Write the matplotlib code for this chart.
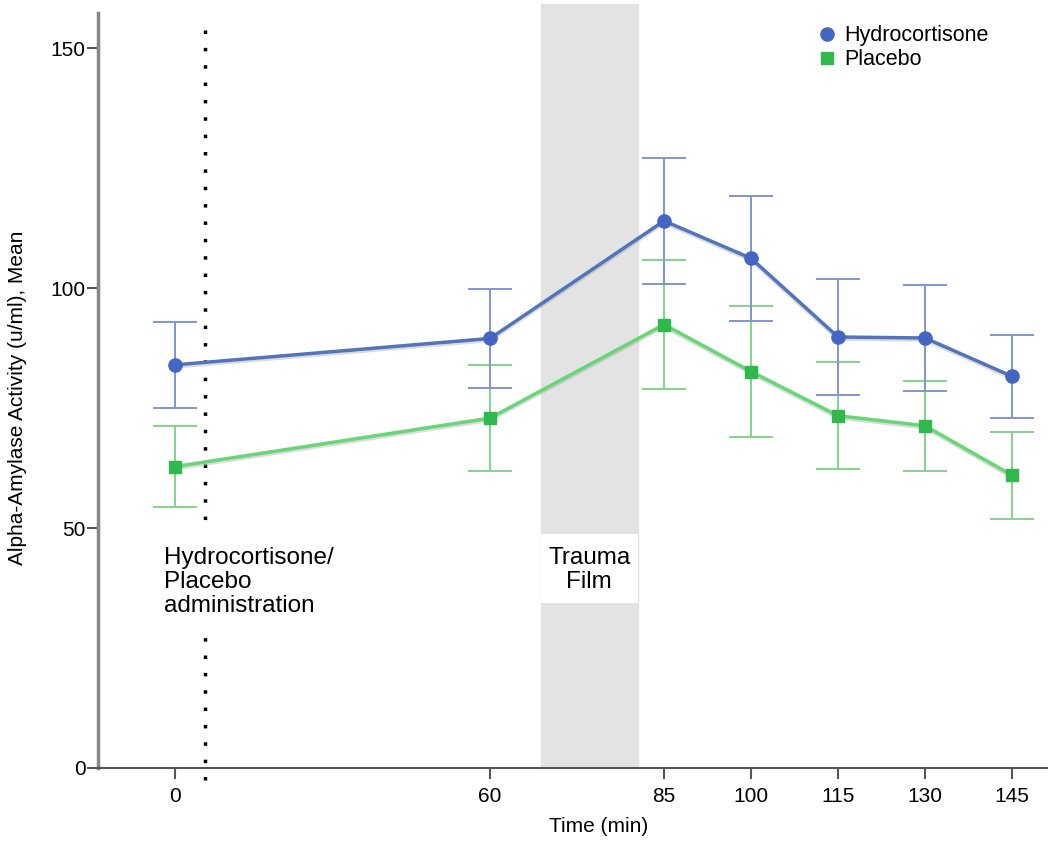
import numpy as np
import matplotlib.pyplot as plt
import matplotlib.patheffects as pe
from matplotlib.patches import Rectangle

plt.rcParams['font.family'] = ['Liberation Sans', 'DejaVu Sans']

# sampling times (min) and group means / error half-widths
times = [0, 60, 85, 100, 115, 130, 145]
hydro_mean = [84.0, 89.5, 114.0, 106.2, 89.8, 89.6, 81.6]
hydro_err = [8.9, 10.4, 13.2, 13.0, 12.0, 11.0, 8.6]
placebo_mean = [62.8, 72.9, 92.4, 82.6, 73.4, 71.3, 61.0]
placebo_err = [8.4, 11.0, 13.4, 13.7, 11.2, 9.4, 9.1]

film_start, film_end = 67.3, 81.2
admin_time = 5.7

# the time axis is stretched unevenly: 0->60 gets less room per minute
slots = np.array([0, 3.62, 5.62, 6.62, 7.62, 8.62, 9.62])
t_arr = np.array(times, dtype=float)


def t2s(t):
    t = np.asarray(t, dtype=float)
    s = np.interp(t, t_arr, slots)
    lo = t < t_arr[0]
    hi = t > t_arr[-1]
    s = np.where(lo, slots[0] + (t - t_arr[0]) * (slots[1] - slots[0]) / (t_arr[1] - t_arr[0]), s)
    s = np.where(hi, slots[-1] + (t - t_arr[-1]) * (slots[-1] - slots[-2]) / (t_arr[-1] - t_arr[-2]), s)
    return s


def s2t(s):
    s = np.asarray(s, dtype=float)
    t = np.interp(s, slots, t_arr)
    lo = s < slots[0]
    hi = s > slots[-1]
    t = np.where(lo, t_arr[0] + (s - slots[0]) * (t_arr[1] - t_arr[0]) / (slots[1] - slots[0]), t)
    t = np.where(hi, t_arr[-1] + (s - slots[-1]) * (t_arr[-1] - t_arr[-2]) / (slots[-1] - slots[-2]), t)
    return t


fig = plt.figure(figsize=(10.48, 8.43), dpi=100)
ax = fig.add_axes([0.0935, 0.089, 0.9065, 0.8955])
ax.set_xscale('function', functions=(t2s, s2t))
ax.set_xlim(-14.7, 151.2)
ax.set_ylim(0, 157.3)

blue = '#5274bb'
blue_mk = '#4565c4'
blue_err = '#8294d4'
green = '#66d676'
green_mk = '#2fb84c'
green_err = '#7fd68a'

# trauma film window and drug administration marker
ax.axvspan(film_start, film_end, ymin=0, ymax=1.012, color='#e3e3e3', zorder=0, clip_on=False)
ax.vlines(admin_time, -2.5, 156.5, color='black', linestyle=(0, (1, 4)), lw=2.5,
          zorder=1, clip_on=False)

# white gaps behind the annotation text
ax.add_patch(Rectangle((film_start, 34.4), film_end - film_start, 14.4,
                       facecolor='white', edgecolor='none', zorder=1.5))
ax.add_patch(Rectangle((admin_time - 2, 28.7), 4, 21.0,
                       facecolor='white', edgecolor='none', zorder=1.5))

shadow = [pe.SimpleLineShadow(offset=(0, -1.5), shadow_color='#999999', alpha=0.35), pe.Normal()]

ax.errorbar(times, placebo_mean, yerr=placebo_err, fmt='none', ecolor=green_err,
            elinewidth=1.4, capsize=16, capthick=1.4, zorder=2)
ax.errorbar(times, hydro_mean, yerr=hydro_err, fmt='none', ecolor=blue_err,
            elinewidth=1.4, capsize=16, capthick=1.4, zorder=2)
ax.plot(times, placebo_mean, color=green, lw=2.5, zorder=3, path_effects=shadow)
ax.plot(times, hydro_mean, color=blue, lw=2.5, zorder=3, path_effects=shadow)
ax.plot(times, placebo_mean, 's', color=green_mk, ms=9, zorder=4, label='Placebo')
ax.plot(times, hydro_mean, 'o', color=blue_mk, ms=9.5, zorder=4, label='Hydrocortisone')

ax.text(-2.2, 46.0, 'Hydrocortisone/\nPlacebo\nadministration', fontsize=17.5,
        ha='left', va='top', linespacing=1.12, zorder=5)
ax.text((film_start + film_end) / 2, 46.0, 'Trauma\nFilm', fontsize=17.5,
        ha='center', va='top', linespacing=1.12, zorder=5)

ax.set_xticks(times)
ax.set_xticklabels([str(t) for t in times])
ax.set_yticks([0, 50, 100, 150])
ax.tick_params(axis='both', labelsize=15, length=8, width=1.5, color='#555555')
ax.tick_params(axis='x', pad=6)
ax.tick_params(axis='y', pad=1)

for side in ['top', 'right']:
    ax.spines[side].set_visible(False)
ax.spines['left'].set_color('#888888')
ax.spines['left'].set_linewidth(2.5)
ax.spines['bottom'].set_color('#555555')
ax.spines['bottom'].set_linewidth(1.5)

ax.set_xlabel('Time (min)', fontsize=15)
ax.xaxis.set_label_coords(0.527, -0.065)
ax.set_ylabel('Alpha-Amylase Activity (u/ml), Mean', fontsize=15)
ax.yaxis.set_label_coords(-0.075, 0.49)

handles, labels = ax.get_legend_handles_labels()
ax.legend(handles[::-1], labels[::-1], loc='upper left', bbox_to_anchor=(0.752, 0.995),
          frameon=False, fontsize=15.5, handlelength=0.6, handletextpad=0.5,
          labelspacing=0.12, borderaxespad=0.0)

fig.savefig('out.png', dpi=100)
